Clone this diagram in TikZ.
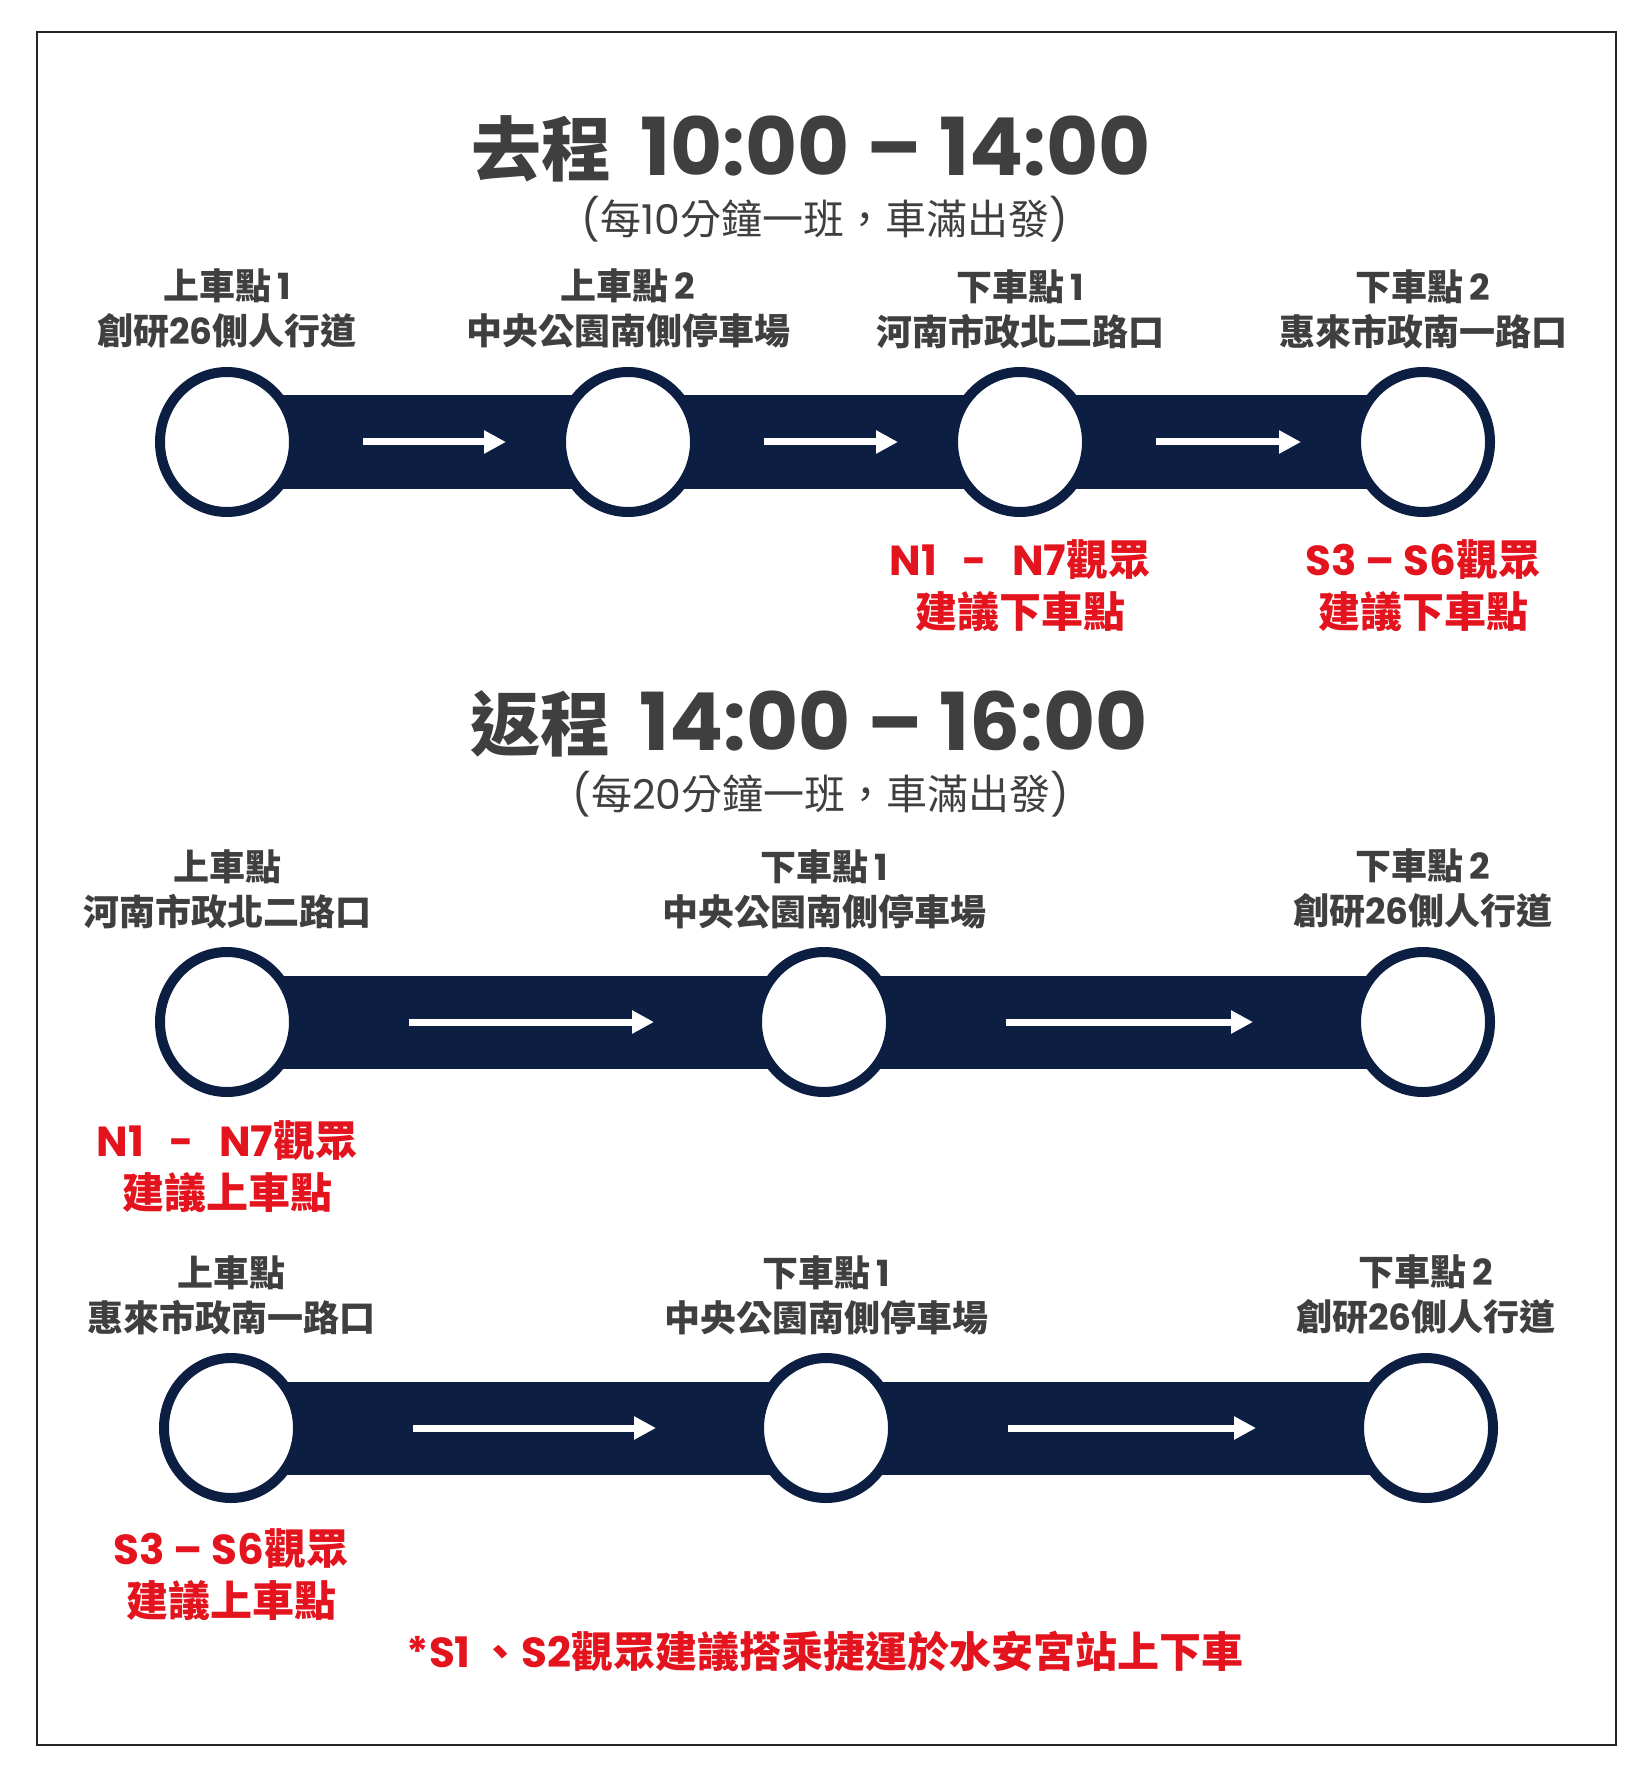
\documentclass[tikz,border=0pt]{standalone}
\usepackage{fontspec}
\setmainfont{Poppins}
\newfontfamily\cjk{Noto Sans CJK TC}
\usetikzlibrary{arrows.meta, positioning, shapes.geometric, backgrounds}

\definecolor{navy}{HTML}{0C1E42}
\definecolor{alertred}{HTML}{E3141E}
\definecolor{inkgray}{HTML}{3F3F3F}

\newcommand{\zh}[1]{{\cjk #1}}
\newcommand{\zhbig}[1]{{\fontsize{35}{48}\selectfont\cjk #1}}
\newcommand{\gap}{\hspace{0.6em}}

\begin{document}
\begin{tikzpicture}[x=0.5pt, y=0.5pt]
	\tikzset{station/.style={ellipse, draw=navy, line width=5pt, fill=white, minimum width=67pt, minimum height=70pt, inner sep=0pt},
		stationlabel/.style={align=center, text=inkgray, inner sep=0pt, font=\bfseries\fontsize{18}{22.5}\selectfont},
		hint/.style={align=center, text=alertred, inner sep=0pt, font=\bfseries\fontsize{21}{26}\selectfont},
		heading/.style={text=inkgray, inner sep=0pt, font=\bfseries\fontsize{40}{48}\selectfont},
		subheading/.style={text=inkgray, inner sep=0pt, font=\fontsize{20.5}{24}\selectfont},
		track/.style={navy, line width=46.5pt},
		flow/.style={white, line width=3.5pt, -{Triangle[length=11pt, width=11pt]}} }

	\useasboundingbox (0,0) rectangle (1650,-1770);
	\draw[line width=1pt, black!85] (37,-32) rectangle (1616,-1745);

	% outbound
	\node[heading] (go) at (811,-149) {\zhbig{去程}\hspace{6pt} 10:00 – 14:00};
	\node[subheading] (gofreq) at (825,-219) {(\zh{每}10\zh{分鐘一班，車滿出發})};

	\node[station] (a1) at (227,-442) {};
	\node[station] (a2) at (628,-442) {};
	\node[station] (a3) at (1020,-442) {};
	\node[station] (a4) at (1423,-442) {};

	\node[stationlabel, above=9pt of a1] (la1) {\zh{上車點}\,1\\\zh{創研}26\zh{側人行道}};
	\node[stationlabel, above=9pt of a2] (la2) {\zh{上車點}\,2\\\zh{中央公園南側停車場}};
	\node[stationlabel, above=9pt of a3] (la3) {\zh{下車點}\,1\\\zh{河南市政北二路口}};
	\node[stationlabel, above=9pt of a4] (la4) {\zh{下車點}\,2\\\zh{惠來市政南一路口}};

	\node[hint, below=11pt of a3] (ha3) {N1\gap-\gap N7\zh{觀眾}\\\zh{建議下車點}};
	\node[hint, below=11pt of a4] (ha4) {S3 – S6\zh{觀眾}\\\zh{建議下車點}};

	\begin{pgfonlayer}{background}
		\draw[track] (a1.center) -- (a2.center) -- (a3.center) -- (a4.center);
	\end{pgfonlayer}
	\draw[flow, shorten <=32pt, shorten >=25pt] (a1) -- (a2);
	\draw[flow, shorten <=32pt, shorten >=25pt] (a2) -- (a3);
	\draw[flow, shorten <=32pt, shorten >=25pt] (a3) -- (a4);

	% return
	\node[heading] (back) at (809,-724) {\zhbig{返程}\hspace{6pt} 14:00 – 16:00};
	\node[subheading] (backfreq) at (821,-794) {(\zh{每}20\zh{分鐘一班，車滿出發})};

	\node[station] (b1) at (227,-1022) {};
	\node[station] (b2) at (824,-1022) {};
	\node[station] (b3) at (1423,-1022) {};

	\node[stationlabel, above=9pt of b1] (lb1) {\zh{上車點}\\\zh{河南市政北二路口}};
	\node[stationlabel, above=9pt of b2] (lb2) {\zh{下車點}\,1\\\zh{中央公園南側停車場}};
	\node[stationlabel, above=9pt of b3] (lb3) {\zh{下車點}\,2\\\zh{創研}26\zh{側人行道}};

	\node[hint, below=11.5pt of b1] (hb1) {N1\gap-\gap N7\zh{觀眾}\\\zh{建議上車點}};

	\node[station] (c1) at (231,-1428) {};
	\node[station] (c2) at (826,-1428) {};
	\node[station] (c3) at (1426,-1428) {};

	\node[stationlabel, above=9pt of c1] (lc1) {\zh{上車點}\\\zh{惠來市政南一路口}};
	\node[stationlabel, above=9pt of c2] (lc2) {\zh{下車點}\,1\\\zh{中央公園南側停車場}};
	\node[stationlabel, above=9pt of c3] (lc3) {\zh{下車點}\,2\\\zh{創研}26\zh{側人行道}};

	\node[hint, below=12.5pt of c1] (hc1) {S3 – S6\zh{觀眾}\\\zh{建議上車點}};

	\begin{pgfonlayer}{background}
		\draw[track] (b1.center) -- (b2.center) -- (b3.center);
		\draw[track] (c1.center) -- (c2.center) -- (c3.center);
	\end{pgfonlayer}
	\draw[flow, shorten <=55pt, shorten >=49pt] (b1) -- (b2);
	\draw[flow, shorten <=55pt, shorten >=49pt] (b2) -- (b3);
	\draw[flow, shorten <=55pt, shorten >=49pt] (c1) -- (c2);
	\draw[flow, shorten <=55pt, shorten >=49pt] (c2) -- (c3);

	\node[hint] (note) at (825,-1651) {*S1 \zh{、}S2\zh{觀眾建議搭乘捷運於水安宮站上下車}};
\end{tikzpicture}
\end{document}
